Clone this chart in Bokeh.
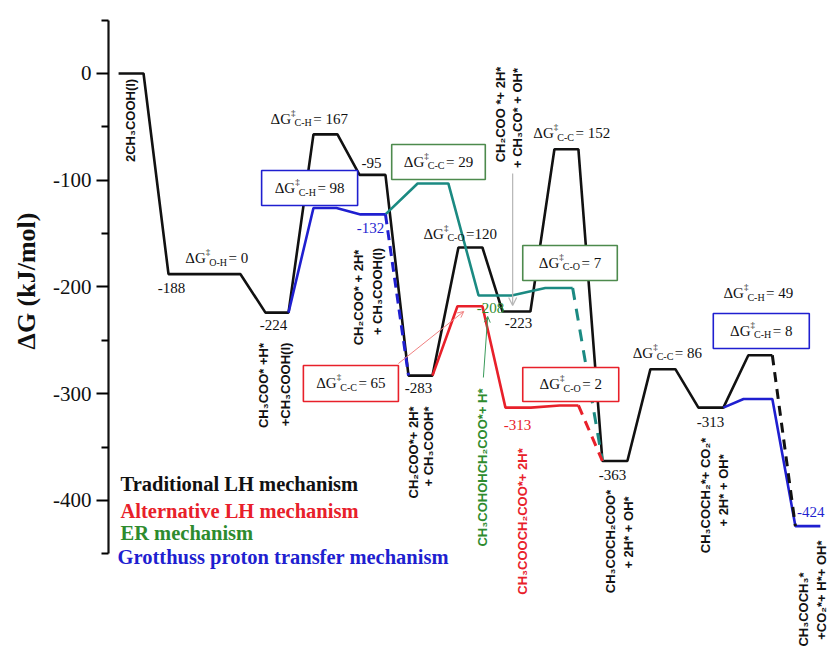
import numpy as np
from bokeh.plotting import figure
from bokeh.models import (Range1d, FixedTicker, Arrow, OpenHead, Title, ColumnDataSource,
                          CustomJSTickFormatter)
from bokeh.core.properties import value, field
from bokeh.embed import file_html
from bokeh.resources import INLINE

# ---------------- data ----------------
# Traditional LH mechanism (black): free energy of each level (kJ/mol) and its extent
lh_energy = [0, -188, -224, -57, -95, -283, -163, -223, -71, -363, -277, -313, -264]
lh_start = [0.21, 1.25, 3.27, 4.27, 5.23, 6.25, 7.29, 8.21, 9.29, 10.29, 11.29, 12.29, 13.33]
lh_end = [0.73, 2.75, 3.75, 4.77, 5.77, 6.75, 7.79, 8.79, 9.79, 10.81, 11.81, 12.81, 13.83]

# Grotthuss proton transfer mechanism (blue)
gp1_energy = [-224, -126, -132]
gp1_start = [3.27, 4.27, 5.25]
gp1_end = [3.75, 4.75, 5.77]
gp2_energy = [-313, -305, -424]
gp2_start = [12.29, 13.23, 14.31]
gp2_end = [12.81, 13.83, 14.83]

# ER mechanism (teal)
er_energy = [-132, -103, -208, -201]
er_start = [5.25, 6.44, 7.71, 9.10]
er_end = [5.77, 7.08, 8.40, 9.67]

# Alternative LH mechanism (red)
al_energy = [-283, -218, -313, -311]
al_start = [6.25, 7.27, 8.27, 9.40]
al_end = [6.75, 7.79, 8.80, 9.79]

y_major = [-400, -300, -200, -100, 0]
y_minor = [-450, -350, -250, -150, -50, 50]

# ---------------- style ----------------
BLACK = "#111111"
RED = "#e8202a"
TEAL = "#1b8a82"
BLUE = "#1f1fd0"
GREEN = "#2e8b2e"
GREENBOX = "#4d8a4d"
SERIF = "Liberation Serif"
SANS = "Liberation Sans"


def path(starts, ends, energies):
    xs, ys = [], []
    for s, e, en in zip(starts, ends, energies):
        xs += [s, e]
        ys += [en, en]
    return xs, ys


p = figure(width=830, height=646, output_backend="svg", toolbar_location=None,
           x_range=Range1d(0, 15.0417), y_range=Range1d(-536.8, 68.38),
           x_axis_type=None, min_border_left=108, min_border_right=0,
           min_border_top=0, min_border_bottom=0)
p.outline_line_color = None
p.grid.visible = False
p.background_fill_color = "white"

ax = p.yaxis[0]
ax.ticker = FixedTicker(ticks=y_major, minor_ticks=y_minor)
ax.formatter = CustomJSTickFormatter(code="return tick.toString()")
ax.bounds = (-450, 50)
ax.axis_line_width = 2.2
ax.axis_line_color = BLACK
ax.major_tick_line_width = 2
ax.minor_tick_line_width = 2
ax.major_tick_out = 12
ax.major_tick_in = 0
ax.minor_tick_out = 7
ax.minor_tick_in = 0
ax.major_label_text_font = SERIF
ax.major_label_text_font_size = "21px"
ax.major_label_text_color = BLACK
ax.major_label_standoff = 5

# y axis title as a side title, placed to match the reference
p.add_layout(Title(text="ΔG (kJ/mol)", align="right", offset=212, vertical_align="top",
                   standoff=16, text_font=SERIF, text_font_style="bold",
                   text_font_size="26px", text_color=BLACK), "left")

LW = 2.6

# black main path
bx, by = path(lh_start, lh_end, lh_energy)
p.line(bx, by, line_color=BLACK, line_width=LW)

# teal ER path
tx, ty = path(er_start, er_end, er_energy)
p.line(tx[1:], ty[1:], line_color=TEAL, line_width=LW)
p.line([er_end[-1], lh_start[9]], [er_energy[-1], lh_energy[9]], line_color=TEAL,
       line_width=LW + 0.4, line_dash="12 9")

# red alternative LH path
rx, ry = path(al_start, al_end, al_energy)
p.line(rx[1:], ry[1:], line_color=RED, line_width=LW)
p.line([al_end[-1], lh_start[9]], [al_energy[-1], lh_energy[9]], line_color=RED,
       line_width=LW + 0.4, line_dash="10 7")

# blue Grotthuss path
gx, gy = path(gp1_start, gp1_end, gp1_energy)
p.line(gx[1:], gy[1:], line_color=BLUE, line_width=LW)
p.line([gp1_end[-1], lh_start[5]], [gp1_energy[-1], lh_energy[5]], line_color=BLUE,
       line_width=LW + 0.4, line_dash="10 6")
gx2, gy2 = path(gp2_start, gp2_end, gp2_energy)
p.line(gx2[1:], gy2[1:], line_color=BLUE, line_width=LW)

# black dashed final step
p.line([lh_end[-1], gp2_start[-1]], [lh_energy[-1], gp2_energy[-1]], line_color=BLACK,
       line_width=LW + 0.4, line_dash="10 7")

# ---------------- boxes ----------------
boxes = [  # (left, right, bottom, top, color, sub, value)
    (3.19, 5.19, -123.7, -90.9, BLUE, "C-H", "= 98"),
    (5.90, 7.85, -99.3, -66.5, GREENBOX, "C-C", "= 29"),
    (8.63, 10.60, -193.9, -161.1, GREENBOX, "C-O", "= 7"),
    (4.06, 6.04, -307.3, -273.5, RED, "C-C", "= 65"),
    (8.63, 10.63, -307.3, -275.4, RED, "C-O", "= 2"),
    (12.60, 14.60, -257.6, -224.8, BLUE, "C-H", "= 8"),
]
p.quad(left=[b[0] for b in boxes], right=[b[1] for b in boxes],
       bottom=[b[2] for b in boxes], top=[b[3] for b in boxes],
       fill_color="white", line_color=[b[4] for b in boxes], line_width=1.6)

# ---------------- ΔG‡ labels with sub/superscripts ----------------
CW = {'Δ': .612, 'G': .722, 'C': .667, 'H': .722, 'O': .722, '-': .333, '=': .564, ' ': .25}


def tw(s, size):
    return sum(CW.get(c, .5) for c in s) * size


dg_rows = dict(x=[], y=[], text=[], size=[], xo=[], yo=[], color=[])


def dg_label(x, y, sub, val, color=BLACK, center=False):
    wm = tw("ΔG", 15)
    sup_x = wm + 0.5
    sub_x = wm + 4.0
    val_x = sub_x + tw(sub, 10) + 1.5
    total = val_x + tw(val, 15)
    shift = -total / 2 if center else 0
    for t, s, xo, yo in [("ΔG", 15, 0, 0), ("‡", 9, sup_x, -6), (sub, 10, sub_x, 4),
                         (val, 15, val_x, 0)]:
        dg_rows["x"].append(x)
        dg_rows["y"].append(y)
        dg_rows["text"].append(t)
        dg_rows["size"].append(f"{s}px")
        dg_rows["xo"].append(xo + shift)
        dg_rows["yo"].append(yo)
        dg_rows["color"].append(color)


dg_label(1.60, -173.3, "O-H", "= 0")
dg_label(3.375, -42.2, "C-H", "= 167")
dg_label(6.56, -149.9, "C-O", "=120")
dg_label(8.85, -56.2, "C-C", "= 152")
dg_label(10.92, -261.4, "C-C", "= 86")
dg_label(12.81, -206.1, "C-H", "= 49")
for b in boxes:
    dg_label((b[0] + b[1]) / 2, (b[2] + b[3]) / 2, b[5], b[6], BLACK, center=True)

p.text(x="x", y="y", text="text", x_offset="xo", y_offset="yo", text_color="color",
       text_font_size=field("size"), text_font=value(SERIF), text_align="left",
       text_baseline="middle", source=ColumnDataSource(dg_rows))

# ---------------- energy values ----------------
vals = [
    ("-188", 1.31, -200.5, BLACK), ("-224", 3.44, -236.0, BLACK), ("-95", 5.48, -83.4, BLACK),
    ("-132", 5.46, -145.2, BLUE), ("-283", 6.46, -295.1, BLACK), ("-208", 7.96, -220.1, GREEN),
    ("-223", 8.54, -234.2, BLACK), ("-313", 8.52, -329.7, RED), ("-363", 10.5, -376.6, BLACK),
    ("-313", 12.54, -326.9, BLACK), ("-424", 14.63, -411.2, BLUE),
]
p.text(x=[v[1] for v in vals], y=[v[2] for v in vals], text=[v[0] for v in vals],
       text_color=[v[3] for v in vals], text_font=value(SERIF), text_font_size="15px",
       text_align="center", text_baseline="middle")

# ---------------- species labels (vertical) ----------------
species = [
    ("2CH₃COOH(l)", 0.458, -44.0, BLACK),
    ("CH₃COO* +H*", 3.229, -292.3, BLACK),
    ("+CH₃COOH(l)", 3.6875, -291.3, BLACK),
    ("CH₂COO* + 2H*", 5.208, -209.8, BLACK),
    ("+ CH₃COOH(l)", 5.604, -204.2, BLACK),
    ("CH₂COO*+ 2H*", 6.354, -355.0, BLACK),
    ("+ CH₃COOH*", 6.667, -349.4, BLACK),
    ("CH₃COHOHCH₂COO*+ H*", 7.79, -369.1, GREEN),
    ("CH₃COOCH₂COO*+ 2H*", 8.625, -419.7, RED),
    ("CH₂COO *+ 2H*", 8.167, -38.4, BLACK),
    ("+ CH₃CO* + OH*", 8.52, -41.7, BLACK),
    ("CH₃COCH₂COO*", 10.458, -438.4, BLACK),
    ("+ 2H* + OH*", 10.833, -430.0, BLACK),
    ("CH₃COCH₂*+ CO₂*", 12.4375, -395.3, BLACK),
    ("+ 2H* + OH*", 12.81, -390.6, BLACK),
]
p.text(x=[s[1] for s in species], y=[s[2] for s in species], text=[s[0] for s in species],
       text_color=[s[3] for s in species], angle=np.pi / 2, text_font=value(SANS),
       text_font_style="bold", text_font_size="13px", text_align="center",
       text_baseline="middle")
species_top = [
    ("CH₃COCH₃*", 14.48, -467.4, BLACK),
    ("+CO₂*+ H*+ OH*", 14.85, -437.5, BLACK),
]
p.text(x=[s[1] for s in species_top], y=[s[2] for s in species_top],
       text=[s[0] for s in species_top], text_color=[s[3] for s in species_top],
       angle=np.pi / 2, text_font=value(SANS), text_font_style="bold",
       text_font_size="13px", text_align="right", text_baseline="middle")

# ---------------- legend text ----------------
legend = [
    ("Traditional LH mechanism", BLACK, 0.25, -385.0),
    ("Alternative LH mechanism", RED, 0.25, -409.4),
    ("ER mechanism", GREEN, 0.25, -430.9),
    ("Grotthuss proton transfer mechanism", BLUE, 0.19, -453.4),
]
p.text(x=[l[2] for l in legend], y=[l[3] for l in legend], text=[l[0] for l in legend],
       text_color=[l[1] for l in legend], text_font=value(SERIF), text_font_style="bold",
       text_font_size="20.5px", text_align="left", text_baseline="middle")

# ---------------- pointer arrows ----------------
p.add_layout(Arrow(end=OpenHead(size=8, line_color="#b5b5b5", line_width=1.2),
                   x_start=8.42, y_start=-93.7, x_end=8.42, y_end=-217.3,
                   line_color="#b5b5b5", line_width=1.2))
p.add_layout(Arrow(end=OpenHead(size=6, line_color="#f08080", line_width=1),
                   x_start=6.04, y_start=-271.7, x_end=7.40, y_end=-223.0,
                   line_color="#f08080", line_width=1))
p.add_layout(Arrow(end=OpenHead(size=6, line_color="#3a9a5a", line_width=1),
                   x_start=7.81, y_start=-284.8, x_end=7.90, y_end=-227.6,
                   line_color="#3a9a5a", line_width=1))

open("out.html", "w").write(file_html(p, INLINE))
